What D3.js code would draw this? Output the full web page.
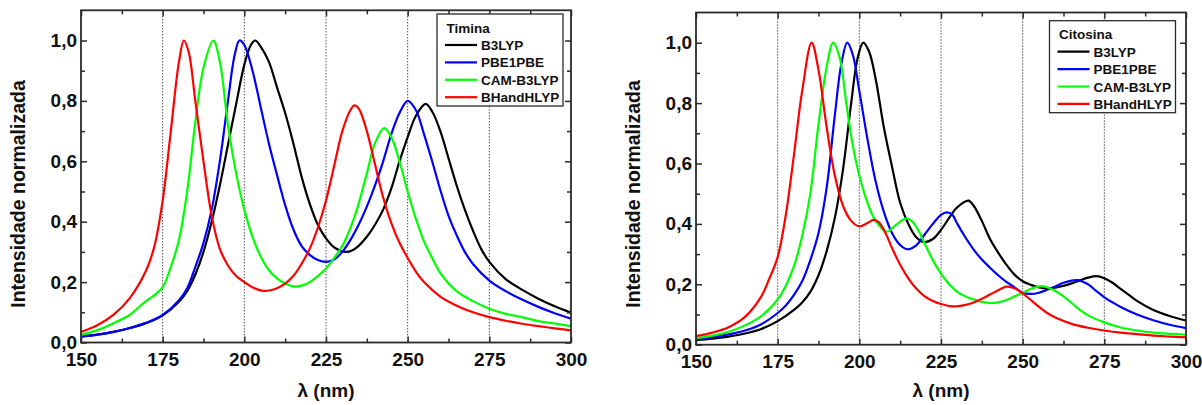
<!DOCTYPE html>
<html><head><meta charset="utf-8">
<script src="https://cdn.jsdelivr.net/npm/d3@7"></script>
<style>
body{margin:0;background:#fff;}
svg{display:block;font-family:"Liberation Sans",Arial,sans-serif;font-weight:bold;}
</style></head>
<body><svg id="c" width="1202" height="405"></svg>
<script>
// ---------- data ----------
const lambdaTicks = [150,175,200,225,250,275,300];
const lambdaMinor = [162.5,187.5,212.5,237.5,262.5,287.5];
const intensityTicks = [0,0.2,0.4,0.6,0.8,1.0];
const intensityMinor = [0.1,0.3,0.5,0.7,0.9];
const gridLambdas = [175,200,225,250,275];
const seriesNames = ["B3LYP","PBE1PBE","CAM-B3LYP","BHandHLYP"];
const panelTitles = ["Timina","Citosina"];
const xLabel = "\u03bb (nm)";
const yLabel = "Intensidade normalizada";

const timinaB3LYP = [[150,0.02],[155,0.026],[160,0.035],[165,0.048],[170,0.065],[175,0.09],[180,0.135],[182.5,0.17],[185,0.225],[187.5,0.3],[190,0.4],[192.5,0.52],[195,0.655],[197.5,0.79],[200,0.92],[202,0.985],[203.3,1.0],[205,0.98],[207.5,0.93],[210,0.845],[212.5,0.76],[215,0.66],[217.5,0.55],[220,0.46],[222.5,0.39],[225,0.345],[227.5,0.315],[230.9,0.30],[233,0.305],[235,0.32],[237.5,0.35],[240,0.39],[242.5,0.44],[245,0.51],[247.5,0.6],[250,0.68],[252.5,0.75],[255.5,0.79],[257.5,0.765],[260,0.70],[262.5,0.61],[265,0.52],[267.5,0.44],[270,0.37],[272.5,0.31],[275,0.267],[280,0.21],[285,0.175],[290,0.145],[295,0.12],[300,0.099]];
const timinaPBE1PBE = [[150,0.019],[155,0.026],[160,0.035],[165,0.048],[170,0.065],[175,0.091],[180,0.14],[182.5,0.18],[185,0.25],[187.5,0.33],[190,0.44],[192.5,0.6],[195,0.8],[197,0.95],[198.5,1.0],[200,0.985],[202.5,0.9],[205,0.78],[207.5,0.66],[210,0.555],[212.5,0.455],[215,0.375],[217.5,0.32],[220,0.29],[222.5,0.273],[225,0.267],[227.5,0.275],[230,0.3],[232.5,0.34],[235,0.39],[237.5,0.45],[240,0.52],[242.5,0.6],[245,0.69],[247.5,0.76],[250,0.80],[252.5,0.77],[255,0.69],[257.5,0.6],[260,0.505],[262.5,0.42],[265,0.355],[267.5,0.3],[270,0.26],[275,0.205],[280,0.17],[285,0.142],[290,0.118],[295,0.097],[300,0.079]];
const timinaCAMB3LYP = [[150,0.025],[155,0.041],[160,0.064],[165,0.092],[168,0.12],[170,0.138],[172.5,0.157],[175,0.183],[177.5,0.25],[180,0.34],[182.5,0.5],[185,0.73],[187.5,0.91],[190.5,1.0],[192.5,0.93],[195,0.72],[197.5,0.56],[200,0.44],[202.5,0.35],[205,0.285],[207.5,0.24],[210,0.212],[212.5,0.195],[215.5,0.185],[218,0.19],[220,0.2],[222.5,0.22],[225,0.245],[227.5,0.28],[230,0.32],[232.5,0.38],[235,0.46],[237.5,0.56],[240,0.66],[242.8,0.71],[245,0.68],[247.5,0.6],[250,0.5],[252.5,0.41],[255,0.335],[257.5,0.28],[260,0.23],[265,0.17],[270,0.137],[275,0.112],[280,0.095],[285,0.084],[290,0.071],[295,0.063],[300,0.054]];
const timinaBHandHLYP = [[150,0.035],[155,0.057],[160,0.092],[165,0.148],[170,0.24],[172.5,0.32],[175,0.47],[177.5,0.7],[180,0.93],[181.5,1.0],[183,0.96],[185,0.8],[187.5,0.6],[190,0.42],[192.5,0.31],[195,0.255],[197.5,0.22],[200,0.2],[202.5,0.183],[205.8,0.171],[208,0.173],[210,0.18],[212.5,0.195],[215,0.22],[217.5,0.26],[220,0.31],[222.5,0.38],[225,0.47],[227.5,0.585],[230,0.70],[232.5,0.77],[233.7,0.785],[235,0.775],[237.5,0.70],[240,0.59],[242.5,0.48],[245,0.395],[247.5,0.33],[250,0.28],[252.5,0.235],[255,0.2],[260,0.152],[265,0.122],[270,0.1],[275,0.084],[280,0.072],[285,0.062],[290,0.054],[295,0.047],[300,0.04]];

const citosinaB3LYP = [[150,0.015],[155,0.02],[160,0.027],[165,0.037],[170,0.052],[175,0.078],[180,0.115],[182.5,0.14],[185,0.175],[187.5,0.23],[190,0.31],[192.5,0.42],[195,0.58],[197.5,0.8],[199.5,0.95],[201.2,1.0],[203,0.97],[205,0.88],[207.5,0.72],[210,0.59],[212.5,0.47],[215,0.4],[217.5,0.355],[219.8,0.34],[222.5,0.35],[225,0.38],[227.5,0.42],[230,0.455],[233.4,0.477],[235,0.46],[237.5,0.41],[240,0.35],[242.5,0.305],[245,0.265],[247.5,0.232],[250,0.21],[252.5,0.198],[255,0.19],[258.4,0.187],[262.5,0.195],[265,0.203],[267.5,0.213],[270,0.222],[272.6,0.227],[275,0.22],[277.5,0.205],[280,0.185],[282.5,0.165],[285,0.145],[290,0.115],[295,0.095],[300,0.08]];
const citosinaPBE1PBE = [[150,0.018],[155,0.025],[160,0.034],[165,0.047],[170,0.068],[175,0.105],[177.5,0.13],[180,0.165],[182.5,0.21],[185,0.28],[187.5,0.37],[190,0.52],[192.5,0.76],[194.5,0.93],[196.3,1.0],[198,0.96],[200,0.84],[202.5,0.68],[205,0.54],[207.5,0.44],[210,0.37],[212.5,0.33],[214.8,0.316],[217.5,0.33],[220,0.365],[222.5,0.4],[225,0.43],[226.8,0.438],[228.5,0.43],[230,0.4],[232.5,0.355],[235,0.315],[237.5,0.282],[240,0.255],[242.5,0.23],[245,0.208],[247.5,0.19],[250,0.172],[252.5,0.168],[255,0.172],[257.5,0.182],[260,0.193],[262.5,0.205],[265,0.212],[266.8,0.214],[270,0.2],[272.5,0.178],[275,0.157],[277.5,0.14],[280,0.125],[285,0.1],[290,0.081],[295,0.066],[300,0.055]];
const citosinaCAMB3LYP = [[150,0.022],[155,0.03],[160,0.043],[165,0.064],[170,0.095],[175,0.15],[177.5,0.195],[180,0.26],[182.5,0.36],[185,0.5],[187.5,0.73],[190,0.92],[192,1.0],[194,0.95],[196,0.8],[198,0.66],[200,0.56],[202.5,0.47],[205,0.41],[208.4,0.374],[211,0.395],[214.3,0.418],[216,0.41],[218,0.38],[220,0.335],[222.5,0.28],[225,0.235],[227.5,0.2],[230,0.175],[232.5,0.16],[235,0.15],[237.5,0.142],[240,0.138],[242.5,0.14],[245,0.148],[247.5,0.16],[250,0.172],[252.5,0.185],[255.5,0.194],[257.5,0.19],[260,0.178],[262.5,0.16],[265,0.138],[267.5,0.115],[270,0.097],[275,0.074],[280,0.057],[285,0.047],[290,0.04],[295,0.036],[300,0.033]];
const citosinaBHandHLYP = [[150,0.028],[155,0.04],[160,0.058],[165,0.092],[170,0.16],[172.5,0.22],[175,0.29],[177.5,0.43],[180,0.63],[182.5,0.84],[185.4,1.0],[187.5,0.91],[190,0.72],[192.5,0.56],[195,0.46],[197.5,0.41],[200,0.392],[202.5,0.403],[204.3,0.413],[206,0.405],[208,0.37],[210,0.32],[212.5,0.265],[215,0.22],[217.5,0.185],[220,0.16],[222.5,0.145],[225,0.135],[228.3,0.127],[232.5,0.132],[235,0.14],[237.5,0.152],[240,0.166],[242.5,0.18],[245,0.192],[247.5,0.187],[250,0.17],[252.5,0.148],[255,0.125],[257.5,0.105],[260,0.09],[265,0.069],[270,0.056],[275,0.047],[280,0.04],[285,0.035],[290,0.03],[295,0.027],[300,0.024]];

// ---------- styling / layout ----------
const seriesColors = ["#000000","#0000ff","#00ff00","#ff0000"];
const panels = [
  {title: panelTitles[0], series:[timinaB3LYP,timinaPBE1PBE,timinaCAMB3LYP,timinaBHandHLYP],
   left:81, right:571, top:10.3, bottom:342.5, legend:{x:437, y:14, w:126, h:92}},
  {title: panelTitles[1], series:[citosinaB3LYP,citosinaPBE1PBE,citosinaCAMB3LYP,citosinaBHandHLYP],
   left:696, right:1186, top:12.5, bottom:344.7, legend:{x:1049.5, y:20.7, w:126, h:92}}
];
const fmt = d3.formatLocale({decimal:",",thousands:".",grouping:[3],currency:["",""]}).format(".1f");
const frameColor = "#2a2a2a";
const svg = d3.select("#c");

panels.forEach((p,pi)=>{
  const x = d3.scaleLinear().domain([150,300]).range([p.left,p.right]);
  const y = d3.scaleLinear().domain([0,1.1]).range([p.bottom,p.top]);
  const g = svg.append("g");
  const clipId = "clip"+pi;
  svg.append("clipPath").attr("id",clipId).append("rect")
    .attr("x",p.left).attr("y",p.top).attr("width",p.right-p.left).attr("height",p.bottom-p.top);

  // dotted grid lines
  g.selectAll("line.grid").data(gridLambdas).enter().append("line")
    .attr("x1",d=>x(d)).attr("x2",d=>x(d)).attr("y1",p.top).attr("y2",p.bottom)
    .attr("stroke","#000").attr("stroke-width",1).attr("stroke-dasharray","1,2");

  // curves
  const line = d3.line().x(d=>x(d[0])).y(d=>y(d[1])).curve(d3.curveCatmullRom.alpha(0.5));
  const cg = g.append("g").attr("clip-path",`url(#${clipId})`);
  p.series.forEach((s,i)=>{
    cg.append("path").datum(s).attr("d",line).attr("fill","none")
      .attr("stroke",seriesColors[i]).attr("stroke-width",2.2).attr("stroke-linejoin","round");
  });

  // axes
  const styleAxis = sel => {
    sel.select(".domain").remove();
    sel.selectAll(".tick line").attr("stroke",frameColor).attr("stroke-width",1.5);
    sel.selectAll("text").attr("font-size",19).attr("font-weight","bold")
      .attr("font-family","'Liberation Sans',Arial,sans-serif").attr("fill","#111");
  };
  g.append("g").attr("transform",`translate(0,${p.bottom})`)
    .call(d3.axisBottom(x).tickValues(lambdaTicks).tickSize(-6).tickPadding(10).tickFormat(d3.format("d"))).call(styleAxis);
  g.append("g").attr("transform",`translate(0,${p.bottom})`)
    .call(d3.axisBottom(x).tickValues(lambdaMinor).tickSize(-4).tickFormat("")).call(styleAxis);
  g.append("g").attr("transform",`translate(0,${p.top})`)
    .call(d3.axisTop(x).tickValues(lambdaTicks).tickSize(-6).tickFormat("")).call(styleAxis);
  g.append("g").attr("transform",`translate(0,${p.top})`)
    .call(d3.axisTop(x).tickValues(lambdaMinor).tickSize(-4).tickFormat("")).call(styleAxis);
  g.append("g").attr("transform",`translate(${p.left},0)`)
    .call(d3.axisLeft(y).tickValues(intensityTicks).tickSize(-6).tickPadding(4).tickFormat(fmt)).call(styleAxis);
  g.append("g").attr("transform",`translate(${p.left},0)`)
    .call(d3.axisLeft(y).tickValues(intensityMinor).tickSize(-4).tickFormat("")).call(styleAxis);
  g.append("g").attr("transform",`translate(${p.right},0)`)
    .call(d3.axisRight(y).tickValues(intensityTicks).tickSize(-6).tickFormat("")).call(styleAxis);
  g.append("g").attr("transform",`translate(${p.right},0)`)
    .call(d3.axisRight(y).tickValues(intensityMinor).tickSize(-4).tickFormat("")).call(styleAxis);

  // frame
  g.append("rect").attr("x",p.left).attr("y",p.top).attr("width",p.right-p.left).attr("height",p.bottom-p.top)
    .attr("fill","none").attr("stroke",frameColor).attr("stroke-width",1.8);

  // axis titles
  g.append("text").attr("x",(p.left+p.right)/2).attr("y",397).attr("text-anchor","middle")
    .attr("font-size",19).attr("fill","#111").text(xLabel);
  g.append("text").attr("transform",`translate(${p.left-56},194) rotate(-90)`).attr("text-anchor","middle")
    .attr("font-size",19.5).attr("fill","#111").text(yLabel);

  // legend
  const L = p.legend;
  const lg = g.append("g");
  lg.append("rect").attr("x",L.x).attr("y",L.y).attr("width",L.w).attr("height",L.h)
    .attr("fill","#fff").attr("stroke",frameColor).attr("stroke-width",1.3);
  lg.append("text").attr("x",L.x+9.5).attr("y",L.y+18.5).attr("font-size",13.5).attr("fill","#111").text(p.title);
  seriesNames.forEach((n,i)=>{
    const yy = L.y + 31 + i*17.4;
    lg.append("line").attr("x1",L.x+8).attr("x2",L.x+40).attr("y1",yy).attr("y2",yy)
      .attr("stroke",seriesColors[i]).attr("stroke-width",2.2);
    lg.append("text").attr("x",L.x+44).attr("y",yy+5).attr("font-size",13.5).attr("fill","#111").text(n);
  });
});
</script></body></html>
